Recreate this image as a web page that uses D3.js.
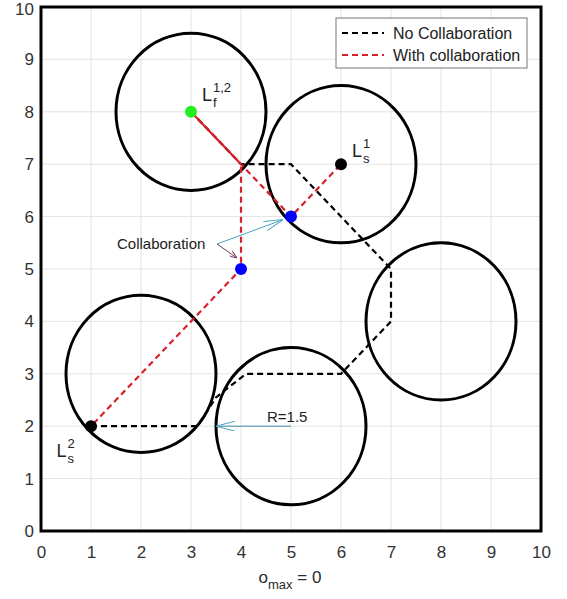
<!DOCTYPE html>
<html>
<head>
<meta charset="utf-8">
<script src="https://cdnjs.cloudflare.com/ajax/libs/d3/7.8.5/d3.min.js"></script>
<style>
  body { margin: 0; background: #fff; }
  svg text { font-family: "Liberation Sans", Arial, sans-serif; }
</style>
</head>
<body>
<div id="chart"></div>
<script>
// obstacles (centre x, centre y), radius R
var obstacles = [[3, 8], [6, 7], [8, 4], [5, 2], [2, 3]];
var radius = 1.5;

// path without collaboration
var noCollab = [[3, 8], [4, 7], [5, 7], [7, 5], [7, 4], [6, 3], [4.1, 3], [3.5, 2.55], [3.13, 2], [1, 2]];
// paths with collaboration
var collabA = [[3, 8], [4, 7], [5, 6], [6, 7]];
var collabB = [[3, 8], [4, 7], [4, 5], [1, 2]];

var startPoints = [[6, 7], [1, 2]];
var meetPoints = [[5, 6], [4, 5]];
var goalPoint = [3, 8];

var xTicks = [0, 1, 2, 3, 4, 5, 6, 7, 8, 9, 10];
var yTicks = [0, 1, 2, 3, 4, 5, 6, 7, 8, 9, 10];

var width = 567, height = 599;

var svg = d3.select("#chart")
    .append("svg")
    .attr("width", width)
    .attr("height", height);

var x = d3.scaleLinear().domain([0, 10]).range([41, 541]);
var y = d3.scaleLinear().domain([0, 10]).range([531, 7]);

// grid
svg.append("g")
    .selectAll("line.vg")
    .data(xTicks)
    .enter()
    .append("line")
    .attr("x1", d => x(d)).attr("x2", d => x(d))
    .attr("y1", y(0)).attr("y2", y(10))
    .style("stroke", "#e3e3e3").style("stroke-width", 1);
svg.append("g")
    .selectAll("line.hg")
    .data(yTicks)
    .enter()
    .append("line")
    .attr("x1", x(0)).attr("x2", x(10))
    .attr("y1", d => y(d)).attr("y2", d => y(d))
    .style("stroke", "#e3e3e3").style("stroke-width", 1);

// axes (labels only, frame drawn separately)
var xAxis = d3.axisBottom(x).tickValues(xTicks).tickSize(0).tickPadding(15);
var yAxis = d3.axisLeft(y).tickValues(yTicks).tickSize(0).tickPadding(7);

var gx = svg.append("g").attr("transform", "translate(0," + y(0) + ")").call(xAxis);
var gy = svg.append("g").attr("transform", "translate(" + x(0) + ",0)").call(yAxis);
[gx, gy].forEach(function(g) {
    g.select(".domain").remove();
    g.selectAll("text")
        .style("font-size", "17px")
        .style("fill", "#333")
        .style("font-family", "Liberation Sans, Arial, sans-serif");
});
// keep the top label inside the picture
gy.selectAll(".tick text").filter(d => d === 10).attr("dy", "0.45em");

// obstacles
svg.append("g")
    .selectAll("ellipse")
    .data(obstacles)
    .enter()
    .append("ellipse")
    .attr("cx", d => x(d[0]))
    .attr("cy", d => y(d[1]))
    .attr("rx", x(radius) - x(0))
    .attr("ry", y(0) - y(radius))
    .style("fill", "none")
    .style("stroke", "#000")
    .style("stroke-width", 3);

var line = d3.line()
    .x(d => x(d[0]))
    .y(d => y(d[1]));

svg.append("path")
    .attr("d", line(noCollab))
    .style("fill", "none")
    .style("stroke", "#000")
    .style("stroke-width", 2.2)
    .style("stroke-dasharray", "6,4");

[collabA, collabB].forEach(function(p, i) {
    svg.append("path")
        .attr("d", line(p))
        .style("fill", "none")
        .style("stroke", "#d8202a")
        .style("stroke-width", 2.2)
        .style("stroke-dasharray", "6,4")
        .style("stroke-dashoffset", i * 5);
});

// markers
svg.append("g").selectAll("circle.s")
    .data(startPoints).enter().append("circle")
    .attr("cx", d => x(d[0])).attr("cy", d => y(d[1])).attr("r", 6)
    .style("fill", "#000");
svg.append("g").selectAll("circle.m")
    .data(meetPoints).enter().append("circle")
    .attr("cx", d => x(d[0])).attr("cy", d => y(d[1])).attr("r", 6)
    .style("fill", "#0000ff");
svg.append("circle")
    .attr("cx", x(goalPoint[0])).attr("cy", y(goalPoint[1])).attr("r", 6)
    .style("fill", "#22ee22");

// point labels
function subSup(px, py, sub, sup) {
    svg.append("text")
        .attr("x", px).attr("y", py)
        .style("font-size", "18px").style("fill", "#222")
        .text("L");
    var lx = px + 11;
    svg.append("text").attr("x", lx).attr("y", py - 9)
        .style("font-size", "13px").style("fill", "#222").text(sup);
    svg.append("text").attr("x", lx).attr("y", py + 6)
        .style("font-size", "13px").style("fill", "#222").text(sub);
}
subSup(x(3.22), y(8.2), "f", "1,2");
subSup(x(6.22), y(7.14), "s", "1");
subSup(x(0.31), y(1.41), "s", "2");

// annotations
var defs = svg.append("defs");
function openArrow(id, color, len, wid) {
    defs.append("marker")
        .attr("id", id)
        .attr("viewBox", "0 0 " + len + " " + wid)
        .attr("refX", 0).attr("refY", wid / 2)
        .attr("markerWidth", len).attr("markerHeight", wid)
        .attr("markerUnits", "userSpaceOnUse")
        .attr("orient", "auto")
        .append("path")
        .attr("d", "M" + len + ",0 L0," + (wid / 2) + " L" + len + "," + wid)
        .style("fill", "none")
        .style("stroke", color)
        .style("stroke-width", 1);
}
openArrow("arrCyan", "#4aa3c0", 19, 10);
openArrow("arrPurple", "#7a3a5a", 8, 6);

svg.append("text")
    .attr("x", 117).attr("y", 249)
    .style("font-size", "15px").style("fill", "#222")
    .text("Collaboration");
svg.append("line")
    .attr("x1", 283).attr("y1", y(6) + 3)
    .attr("x2", 217).attr("y2", 244)
    .style("stroke", "#4aa3c0").style("stroke-width", 1)
    .attr("marker-start", "url(#arrCyan)");
svg.append("line")
    .attr("x1", 237).attr("y1", 258)
    .attr("x2", 217).attr("y2", 244)
    .style("stroke", "#7a3a5a").style("stroke-width", 1)
    .attr("marker-start", "url(#arrPurple)");

svg.append("text")
    .attr("x", 267).attr("y", 422)
    .style("font-size", "15px").style("fill", "#222")
    .text("R=1.5");
svg.append("line")
    .attr("x1", x(3.5)).attr("y1", y(2))
    .attr("x2", x(5)).attr("y2", y(2))
    .style("stroke", "#3f8fb0").style("stroke-width", 1)
    .attr("marker-start", "url(#arrCyan)");

// frame
svg.append("rect")
    .attr("x", x(0)).attr("y", y(10))
    .attr("width", x(10) - x(0)).attr("height", y(0) - y(10))
    .style("fill", "none").style("stroke", "#000").style("stroke-width", 3);

// legend
var legend = svg.append("g").attr("transform", "translate(336,18)");
legend.append("rect")
    .attr("width", 191).attr("height", 50)
    .style("fill", "#fff").style("stroke", "#777").style("stroke-width", 1);
var legendItems = [["No Collaboration", "#000"], ["With collaboration", "#d8202a"]];
legendItems.forEach(function(d, i) {
    var ly = 15 + i * 22;
    legend.append("line")
        .attr("x1", 6).attr("x2", 48).attr("y1", ly).attr("y2", ly)
        .style("stroke", d[1]).style("stroke-width", 2.2).style("stroke-dasharray", "6,4");
    legend.append("text")
        .attr("x", 57).attr("y", ly + 6)
        .style("font-size", "16px").style("fill", "#222")
        .text(d[0]);
});

// x label
var xl = svg.append("text")
    .attr("x", 290).attr("y", 583)
    .attr("text-anchor", "middle")
    .style("font-size", "17px").style("fill", "#2b2b2b");
xl.append("tspan").text("o");
xl.append("tspan").attr("dy", 6).style("font-size", "13px").text("max");
xl.append("tspan").attr("dy", -6).text(" = 0");
</script>
</body>
</html>
